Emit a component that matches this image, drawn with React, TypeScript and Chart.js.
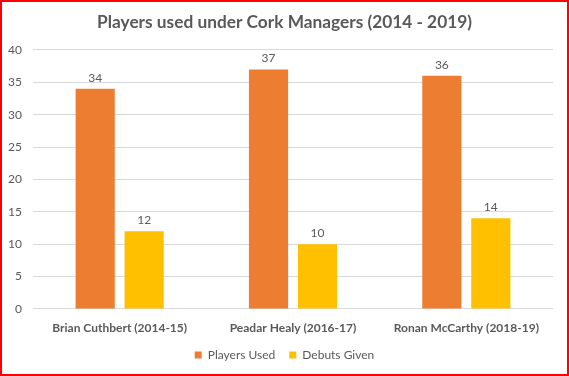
import React, { useEffect, useRef } from "react";
import { Chart, registerables } from "chart.js";

Chart.register(...registerables);

const title = "Players used under Cork Managers (2014 - 2019)";
const categories = ["Brian Cuthbert (2014-15)", "Peadar Healy (2016-17)", "Ronan McCarthy (2018-19)"];
const playersUsed = [34, 37, 36];
const debutsGiven = [12, 10, 14];
const seriesNames = ["Players Used", "Debuts Given"];
const yMin = 0;
const yMax = 40;
const yStep = 5;

const FONT = "Lato, 'Open Sans', sans-serif";
const TEXT = "#595959";

const dataLabels = {
  id: "dataLabels",
  afterDatasetsDraw(chart: any) {
    const ctx = chart.ctx;
    ctx.save();
    ctx.font = `12px ${FONT}`;
    ctx.fillStyle = TEXT;
    ctx.textAlign = "center";
    ctx.textBaseline = "middle";
    chart.data.datasets.forEach((ds: any, i: number) => {
      const meta = chart.getDatasetMeta(i);
      meta.data.forEach((bar: any, j: number) => {
        ctx.fillText(String(ds.data[j]), bar.x, bar.y - 11);
      });
    });
    ctx.restore();
  },
};

export default function App() {
  const ref = useRef<HTMLCanvasElement>(null);
  useEffect(() => {
    if (!ref.current) return;
    const chart = new Chart(ref.current, {
      type: "bar",
      data: {
        labels: categories,
        datasets: [
          { label: seriesNames[0], data: playersUsed, backgroundColor: "#ED7D31" },
          { label: seriesNames[1], data: debutsGiven, backgroundColor: "#FFC000" },
        ],
      },
      options: {
        responsive: false,
        animation: false,
        datasets: { bar: { categoryPercentage: 0.565, barPercentage: 0.8 } },
        layout: { padding: { left: 0, right: 0, top: 0, bottom: 5 } },
        plugins: {
          title: {
            display: true,
            text: title,
            color: TEXT,
            font: { family: FONT, size: 17.3, weight: "bold", lineHeight: 1.2 },
            padding: { top: 12, bottom: 17.2 },
          },
          legend: {
            position: "bottom",
            labels: {
              color: TEXT,
              font: { family: FONT, size: 12 },
              boxWidth: 7,
              boxHeight: 7,
              padding: 14,
            },
          },
          tooltip: { enabled: false },
        },
        scales: {
          x: {
            grid: { display: false, drawTicks: false },
            border: { display: false },
            ticks: { color: TEXT, font: { family: FONT, size: 12, weight: "bold" }, padding: 12 },
            afterFit: (scale: any) => {
              scale.height = 26;
            },
          },
          y: {
            min: yMin,
            max: yMax,
            grid: { color: "#D9D9D9", drawTicks: false, lineWidth: 1 },
            border: { display: false },
            ticks: { stepSize: yStep, color: TEXT, font: { family: FONT, size: 12 }, padding: 11 },
            afterFit: (scale: any) => {
              scale.width = 33;
            },
          },
          y2: {
            position: "right",
            display: true,
            grid: { display: false, drawTicks: false },
            border: { display: false },
            ticks: { display: false },
            afterFit: (scale: any) => {
              scale.width = 16;
            },
          },
        },
      },
      plugins: [dataLabels],
    });
    return () => chart.destroy();
  }, []);
  return (
    <div style={{ position: "absolute", left: 0, top: 0, width: 569, height: 376, background: "#fff" }}>
      <canvas ref={ref} width={569} height={376} style={{ position: "absolute", left: 0, top: 0 }} />
      <div
        style={{
          position: "absolute",
          left: 0,
          top: 0,
          width: 569,
          height: 376,
          border: "2px solid #FF0000",
          boxSizing: "border-box",
          pointerEvents: "none",
        }}
      />
    </div>
  );
}
